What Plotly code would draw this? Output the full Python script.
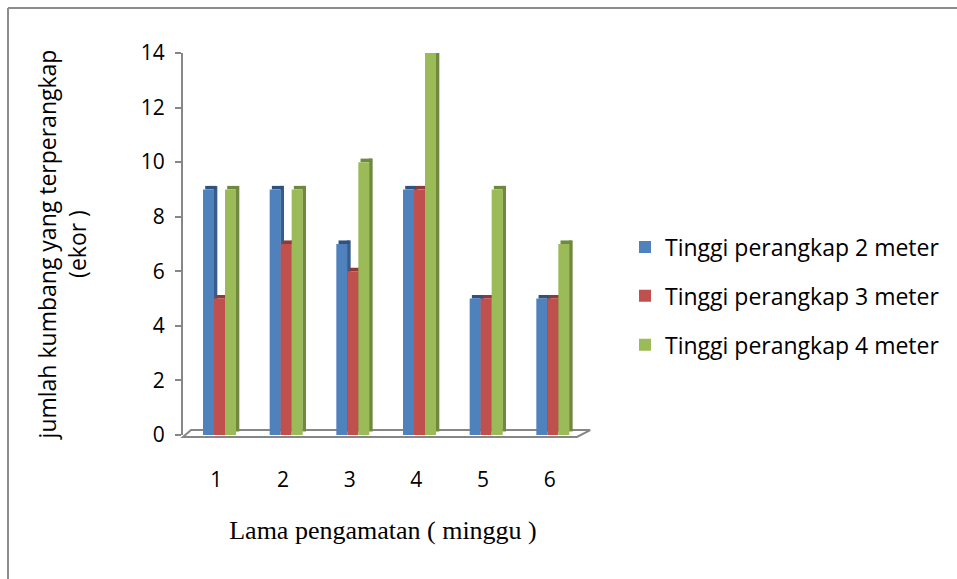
import plotly.graph_objects as go

weeks = [1, 2, 3, 4, 5, 6]
week_labels = ["1", "2", "3", "4", "5", "6"]
series_names = ["Tinggi perangkap 2 meter", "Tinggi perangkap 3 meter", "Tinggi perangkap 4 meter"]
tinggi_2m = [9, 9, 7, 9, 5, 5]
tinggi_3m = [5, 7, 6, 9, 5, 5]
tinggi_4m = [9, 9, 10, 14, 9, 7]
y_ticks = [0, 2, 4, 6, 8, 10, 12, 14]

front_colors = ["#4F81BD", "#C0504D", "#9BBB59"]
side_colors = ["#385D8A", "#8C3836", "#71893F"]
top_colors = ["#2F5280", "#8F3A38", "#6E8A3C"]

bar_w = 0.165
depth_w = 0.055
depth_h = 0.13
offsets = [-0.2, -0.2 + bar_w, -0.2 + 2 * bar_w]

SANS = "Open Sans, Liberation Sans, sans-serif"

fig = go.Figure()
for i, vals in enumerate([tinggi_2m, tinggi_3m, tinggi_4m]):
    # side face (3D depth)
    fig.add_trace(go.Bar(
        x=weeks, y=vals, base=[depth_h] * len(vals),
        offset=offsets[i] + bar_w - 0.005, width=depth_w,
        marker=dict(color=side_colors[i], line=dict(width=0)),
        showlegend=False, hoverinfo="skip", cliponaxis=False))
    # top face
    fig.add_trace(go.Bar(
        x=weeks, y=[depth_h] * len(vals), base=vals,
        offset=offsets[i] + depth_w * 0.6, width=bar_w,
        marker=dict(color=top_colors[i], line=dict(width=0)),
        showlegend=False, hoverinfo="skip", cliponaxis=False))
    # front face
    fig.add_trace(go.Bar(
        x=weeks, y=vals, name=series_names[i],
        offset=offsets[i], width=bar_w,
        marker=dict(color=front_colors[i], line=dict(width=0)),
        legendgroup=f"g{i}", cliponaxis=False))

fig.update_layout(
    barmode="overlay",
    width=957, height=579,
    margin=dict(l=183, r=374, t=53, b=144, autoexpand=False),
    paper_bgcolor="white", plot_bgcolor="white",
    font=dict(family=SANS, color="black"),
    showlegend=True,
    legend=dict(
        x=1.105, y=0.364, xanchor="left", yanchor="middle",
        font=dict(size=23, color="black"),
        tracegroupgap=16, traceorder="grouped",
        itemwidth=30,
    ),
    xaxis=dict(
        range=[0.5, 6.5], tickmode="array", tickvals=weeks, ticktext=week_labels,
        showgrid=False, zeroline=False, showline=False,
        ticks="", ticklabelstandoff=30,
        tickfont=dict(size=21, family=SANS),
        title=dict(text="Lama pengamatan ( minggu )", standoff=28,
                   font=dict(size=26, family="Liberation Serif, Times New Roman, serif")),
    ),
    yaxis=dict(
        range=[0, 14], tickmode="array", tickvals=y_ticks,
        showgrid=False, zeroline=False,
        showline=True, linecolor="#868686", linewidth=2,
        ticks="outside", ticklen=6, tickcolor="#868686", tickwidth=2,
        ticklabelstandoff=6,
        tickfont=dict(size=21),
        title=dict(text="jumlah kumbang yang terperangkap<br>(ekor )", standoff=48,
                   font=dict(size=23)),
    ),
    shapes=[
        # floor of the 3D chart
        dict(type="path", xref="paper", yref="paper",
             path="M 0,-0.005 L 0.985,-0.005 L 1.018,0.013 L 0.02,0.013 Z",
             line=dict(color="#868686", width=2), fillcolor="rgba(0,0,0,0)", layer="below"),
        # chart border (only left and top edges visible in the frame)
        dict(type="line", xref="paper", yref="paper",
             x0=-0.4375, x1=-0.4375, y0=-0.5, y1=1.1178,
             line=dict(color="#8C8C8C", width=2), layer="below"),
        dict(type="line", xref="paper", yref="paper",
             x0=-0.4375, x1=3.0, y0=1.1178, y1=1.1178,
             line=dict(color="#8C8C8C", width=2), layer="below"),
    ],
)

fig.write_html(
    "out.html",
    config={"displayModeBar": False},
    post_script=("document.documentElement.style.overflow='hidden';"
                 "document.body.style.overflow='hidden';"
                 "document.body.style.margin='0';"),
)
